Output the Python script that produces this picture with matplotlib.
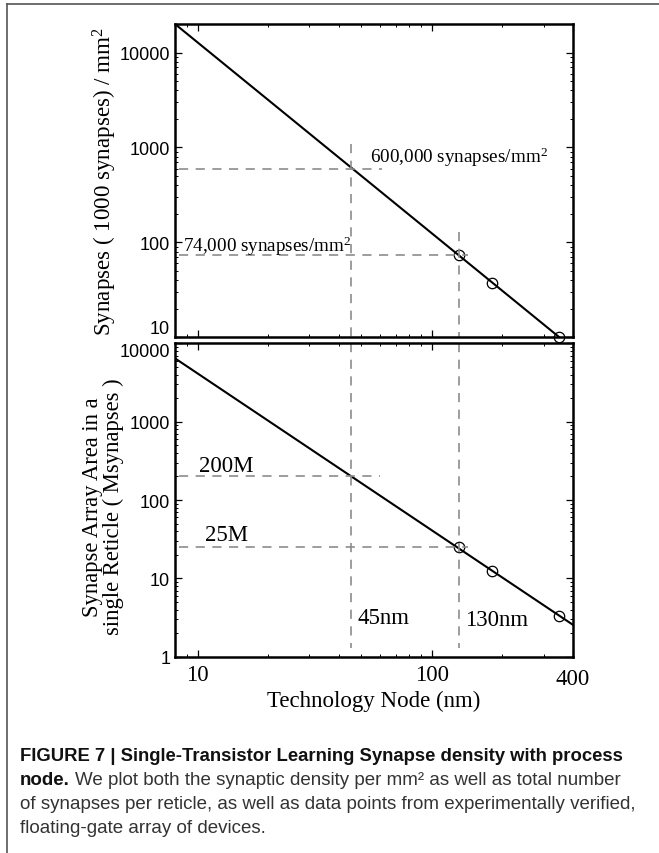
import matplotlib
matplotlib.use("Agg")
import matplotlib.pyplot as plt
from matplotlib.ticker import FixedLocator, FixedFormatter, LogLocator, NullFormatter
from matplotlib.lines import Line2D

# ---- data ----
node_line_top = [8, 350]
density_line = [20000, 10]          # thousands of synapses / mm^2
node_line_bot = [8, 400]
area_line = [6450, 2.55]            # Msynapses per reticle
node_pts = [130, 180, 350]
density_pts = [74, 37, 10]
area_pts = [25, 12.5, 3.3]

ref_nodes = [45, 130]
ref_density = [600, 74]
ref_area = [200, 25]
density_labels = ["600,000 synapses/mm$^2$", "74,000 synapses/mm$^2$"]
area_labels = ["200M", "25M"]
node_labels = ["45nm", "130nm"]

top_yticks = [10, 100, 1000, 10000]
bot_yticks = [1, 10, 100, 1000, 10000]
xticks = [10, 100, 400]
xticklabels = ["10", "100", "400"]

SERIF = ["Liberation Serif", "DejaVu Serif"]
SANS = ["Liberation Sans", "DejaVu Sans"]
CAP = ["Liberation Sans", "DejaVu Sans"]

plt.rcParams["mathtext.fontset"] = "custom"
plt.rcParams["mathtext.rm"] = "Liberation Serif"
plt.rcParams["mathtext.it"] = "Liberation Serif:italic"
plt.rcParams["mathtext.bf"] = "Liberation Serif:bold"

W, H = 659, 854
fig = plt.figure(figsize=(W / 100, H / 100), dpi=100)

def fx(px):
    return px / W

def fy(py):
    return 1 - py / H

L, R = 175, 573
ax1 = fig.add_axes([fx(L), fy(338.3), fx(R - L), (338.3 - 25) / H])
ax2 = fig.add_axes([fx(L), fy(657.7), fx(R - L), (657.7 - 344.4) / H])

dash_kw = dict(color="#8c8c8c", lw=1.2, dashes=(5.5, 4.5))
line_kw = dict(color="black", lw=1.5)
pt_kw = dict(marker="o", ms=7.5, mfc="none", mec="black", mew=0.9, ls="none")

for ax in (ax1, ax2):
    ax.set_xscale("log")
    ax.set_yscale("log")
    ax.set_xlim(8, 400)
    for s in ax.spines.values():
        s.set_linewidth(1.8)
    ax.tick_params(which="both", direction="in", top=True, right=True)
    ax.tick_params(which="major", length=5, width=0.9)
    ax.tick_params(which="minor", length=2.5, width=0.7)
    ax.xaxis.set_major_locator(FixedLocator(xticks))
    ax.xaxis.set_minor_locator(LogLocator(base=10, subs=range(2, 10)))
    ax.yaxis.set_minor_locator(LogLocator(base=10, subs=range(2, 10)))
    ax.yaxis.set_minor_formatter(NullFormatter())
    ax.xaxis.set_minor_formatter(NullFormatter())

# ---- top panel ----
ax1.set_ylim(10, 20000)
ax1.plot(node_line_top, density_line, **line_kw)
ax1.plot(node_pts, density_pts, clip_on=False, **pt_kw)
ax1.plot([8.3, 61], [ref_density[0]] * 2, **dash_kw)
ax1.plot([8.3, 143], [ref_density[1]] * 2, **dash_kw)
ax1.plot([ref_nodes[0]] * 2, [1100, 10], **dash_kw)
ax1.plot([ref_nodes[1]] * 2, [128, 10], **dash_kw)
ax1.text(54.5, 700, density_labels[0], family=SERIF, fontsize=13.8, va="baseline")
ax1.text(8.65, 82, density_labels[1], family=SERIF, fontsize=13.8, va="baseline")
ax1.yaxis.set_major_locator(FixedLocator(top_yticks))
ax1.yaxis.set_major_formatter(FixedFormatter([str(v) for v in top_yticks]))
ax1.xaxis.set_major_formatter(NullFormatter())
for lab in ax1.get_yticklabels():
    lab.set_family(SANS)
    lab.set_fontsize(13)
ax1.get_yticklabels()[0].set_va("bottom")
ax1.set_ylabel("Synapses ( 1000 synapses) / mm$^2$", family=SERIF, fontsize=16.6)
ax1.yaxis.set_label_coords(-0.14, 0.5)

# ---- bottom panel ----
ax2.set_ylim(1, 10000)
ax2.plot(node_line_bot, area_line, **line_kw)
ax2.plot(node_pts, area_pts, clip_on=False, **pt_kw)
ax2.plot([8.3, 60], [ref_area[0]] * 2, **dash_kw)
ax2.plot([8.3, 143], [ref_area[1]] * 2, **dash_kw)
ax2.plot([ref_nodes[0]] * 2, [10000, 1.3], **dash_kw)
ax2.plot([ref_nodes[1]] * 2, [10000, 1.3], **dash_kw)
ax2.text(10.1, 234, area_labels[0], family=SERIF, fontsize=16.5, va="baseline")
ax2.text(10.7, 31, area_labels[1], family=SERIF, fontsize=16.5, va="baseline")
ax2.text(48.1, 2.7, node_labels[0], family=SERIF, fontsize=16.5, va="baseline")
ax2.text(138.8, 2.55, node_labels[1], family=SERIF, fontsize=16.5, va="baseline")
ax2.yaxis.set_major_locator(FixedLocator(bot_yticks))
ax2.yaxis.set_major_formatter(FixedFormatter([str(v) for v in bot_yticks]))
ax2.xaxis.set_major_formatter(FixedFormatter(xticklabels))
for lab in ax2.get_yticklabels():
    lab.set_family(SANS)
    lab.set_fontsize(13)
ax2.get_yticklabels()[-1].set_va("top")
for lab in ax2.get_xticklabels():
    lab.set_family(SERIF)
    lab.set_fontsize(16.5)
ax2.get_xticklabels()[-1].set_y(-0.015)
ax2.tick_params(axis="x", which="major", pad=5)
ax2.set_ylabel("Synapse Array Area in a\nsingle Reticle ( Msynapses )", family=SERIF,
               fontsize=16.3, linespacing=1.0)
ax2.yaxis.set_label_coords(-0.127, 0.481)
ax2.set_xlabel("Technology Node (nm)", family=SERIF, fontsize=16.5, labelpad=0)

# ---- frame of the figure panel ----
fig.add_artist(Line2D([fx(7), fx(659)], [fy(5), fy(5)], color="#555555", lw=1.2))
fig.add_artist(Line2D([fx(7), fx(7)], [fy(5), fy(854)], color="#555555", lw=1.2))

# ---- caption ----
cap_x = fx(20)
fig.text(cap_x, fy(757), "FIGURE 7 | Single-Transistor Learning Synapse density with process",
         family=CAP, fontweight="bold", fontsize=13.3, va="center", color="#111111")
t_node = fig.text(cap_x, fy(781), "node.", family=CAP, fontweight="bold", fontsize=13.5,
                  va="center", color="#111111")
fig.canvas.draw()
r = fig.canvas.get_renderer()
bb = t_node.get_window_extent(renderer=r)
fig.text(bb.x1 / W + fx(5), fy(781),
         "We plot both the synaptic density per mm\u00b2 as well as total number",
         family=CAP, fontsize=13.5, va="center", color="#333333")
fig.text(cap_x, fy(805),
         "of synapses per reticle, as well as data points from experimentally verified,",
         family=CAP, fontsize=13.5, va="center", color="#333333")
fig.text(cap_x, fy(829), "floating-gate array of devices.",
         family=CAP, fontsize=13.5, va="center", color="#333333")

fig.savefig("out.png", dpi=100)
